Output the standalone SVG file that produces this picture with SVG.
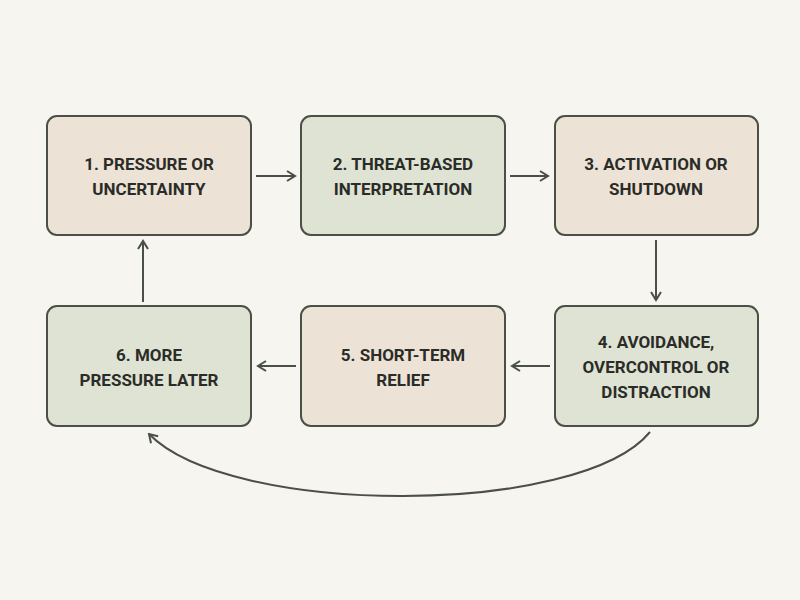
<svg xmlns="http://www.w3.org/2000/svg" width="800" height="600" viewBox="0 0 800 600">
<defs>
<style>
.box{stroke:#4a5045;stroke-width:2}
.beige{fill:#ece3d6}
.green{fill:#dee3d4}
.lbl{font-family:Roboto,"Liberation Sans",sans-serif;font-weight:700;font-size:17px;fill:#2b2c28;text-anchor:middle}
.edge{fill:none;stroke:#4a5045;stroke-width:2}
</style>
<marker id="arr" viewBox="0 0 12 12" refX="10" refY="6" markerWidth="12" markerHeight="12" markerUnits="userSpaceOnUse" orient="auto">
<path d="M2,1 L10,6 L2,11" fill="none" stroke="#4a5045" stroke-width="2"/>
</marker>
</defs>
<rect width="800" height="600" fill="#f7f5ef"/>
<g id="n1"><rect class="box beige" x="47" y="116" width="204" height="119" rx="10"/>
<text class="lbl" x="149" y="170">1. PRESSURE OR</text><text class="lbl" x="149" y="195">UNCERTAINTY</text></g>
<g id="n2"><rect class="box green" x="301" y="116" width="204" height="119" rx="10"/>
<text class="lbl" x="403" y="170">2. THREAT-BASED</text><text class="lbl" x="403" y="195">INTERPRETATION</text></g>
<g id="n3"><rect class="box beige" x="555" y="116" width="203" height="119" rx="10"/>
<text class="lbl" x="656" y="170">3. ACTIVATION OR</text><text class="lbl" x="656" y="195">SHUTDOWN</text></g>
<g id="n4"><rect class="box green" x="555" y="306" width="203" height="120" rx="10"/>
<text class="lbl" x="656" y="348">4. AVOIDANCE,</text><text class="lbl" x="656" y="373">OVERCONTROL OR</text><text class="lbl" x="656" y="398">DISTRACTION</text></g>
<g id="n5"><rect class="box beige" x="301" y="306" width="204" height="120" rx="10"/>
<text class="lbl" x="403" y="361">5. SHORT-TERM</text><text class="lbl" x="403" y="386">RELIEF</text></g>
<g id="n6"><rect class="box green" x="47" y="306" width="204" height="120" rx="10"/>
<text class="lbl" x="149" y="361">6. MORE</text><text class="lbl" x="149" y="386">PRESSURE LATER</text></g>
<g id="edges">
<path class="edge" d="M256,176 H295" marker-end="url(#arr)"/>
<path class="edge" d="M510,176 H548" marker-end="url(#arr)"/>
<path class="edge" d="M656,240 V300" marker-end="url(#arr)"/>
<path class="edge" d="M550,366 H512" marker-end="url(#arr)"/>
<path class="edge" d="M296,366 H258" marker-end="url(#arr)"/>
<path class="edge" d="M143,302 V241" marker-end="url(#arr)"/>
<path class="edge" d="M650,432 C580,517 230,517 149,434" marker-end="url(#arr)"/>
</g>
</svg>
